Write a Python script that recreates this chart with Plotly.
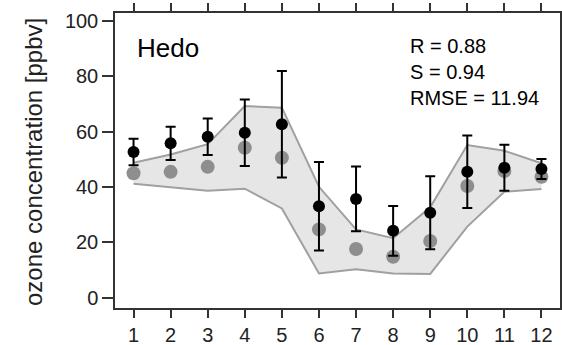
import plotly.graph_objects as go

months = [1, 2, 3, 4, 5, 6, 7, 8, 9, 10, 11, 12]
obs_mean = [52.7, 55.8, 58.2, 59.6, 62.7, 33.1, 35.7, 24.2, 30.7, 45.5, 47.0, 46.5]
obs_err = [4.8, 6.0, 6.6, 12.0, 19.2, 16.0, 11.7, 9.0, 13.2, 13.1, 8.3, 3.6]
model_mean = [45.0, 45.5, 47.3, 54.2, 50.6, 24.7, 17.6, 14.8, 20.5, 40.4, 45.8, 43.7]
model_upper = [48.8, 51.8, 55.5, 69.3, 68.7, 40.1, 24.7, 21.5, 32.7, 55.2, 53.1, 48.6]
model_lower = [41.2, 39.9, 38.7, 39.4, 32.3, 8.8, 10.3, 8.8, 8.6, 25.7, 38.3, 39.3]
y_ticks = [0, 20, 40, 60, 80, 100]
station = "Hedo"
stats = ["R = 0.88", "S = 0.94", "RMSE = 11.94"]

FONT = "Liberation Sans, Arial, sans-serif"
band_line = dict(color="#a0a0a0", width=2)

fig = go.Figure()
fig.add_trace(go.Scatter(x=months, y=model_lower, mode="lines", line=band_line,
                         showlegend=False, hoverinfo="skip"))
fig.add_trace(go.Scatter(x=months, y=model_upper, mode="lines", line=band_line,
                         fill="tonexty", fillcolor="#e6e6e6", showlegend=False,
                         hoverinfo="skip"))
fig.add_trace(go.Scatter(x=months, y=model_mean, mode="markers",
                         marker=dict(color="#8e8e8e", size=14), showlegend=False))
fig.add_trace(go.Scatter(x=months, y=obs_mean, mode="markers",
                         marker=dict(color="black", size=12),
                         error_y=dict(type="data", array=obs_err, color="black",
                                      thickness=2, width=5),
                         showlegend=False))

fig.add_annotation(x=1.04, y=90.2, xref="x", yref="y", text=station, showarrow=False,
                   xanchor="left", yanchor="middle", font=dict(size=26, color="black", family=FONT))
for s, yy in zip(stats, [91.0, 81.6, 72.2]):
    fig.add_annotation(x=8.4, y=yy, xref="x", yref="y", text=s, showarrow=False,
                       xanchor="left", yanchor="middle", font=dict(size=20, color="black", family=FONT))

fig.add_annotation(x=-0.182, y=0.495, xref="paper", yref="paper",
                   text="ozone concentration [ppbv]", showarrow=False, textangle=-90,
                   xanchor="center", yanchor="middle",
                   font=dict(size=24, color="#222222", family=FONT))

axis_common = dict(showline=True, linecolor="#333333", linewidth=1.5, mirror="ticks",
                   ticks="outside", tickwidth=1.5, tickcolor="#333333",
                   showgrid=False, zeroline=False, automargin=False,
                   tickfont=dict(size=20, color="#222222", family=FONT))

fig.update_layout(
    width=562, height=345,
    margin=dict(l=115, r=2, t=13, b=37, autoexpand=False),
    paper_bgcolor="white", plot_bgcolor="white",
    xaxis=dict(range=[0.5, 12.5], tickvals=months, ticktext=[str(m) for m in months],
               ticklen=8, **axis_common),
    yaxis=dict(range=[-3.7, 102.9], tickvals=y_ticks, ticktext=[str(t) for t in y_ticks],
               ticklen=11, **axis_common),
)

fig.write_html("out.html")
